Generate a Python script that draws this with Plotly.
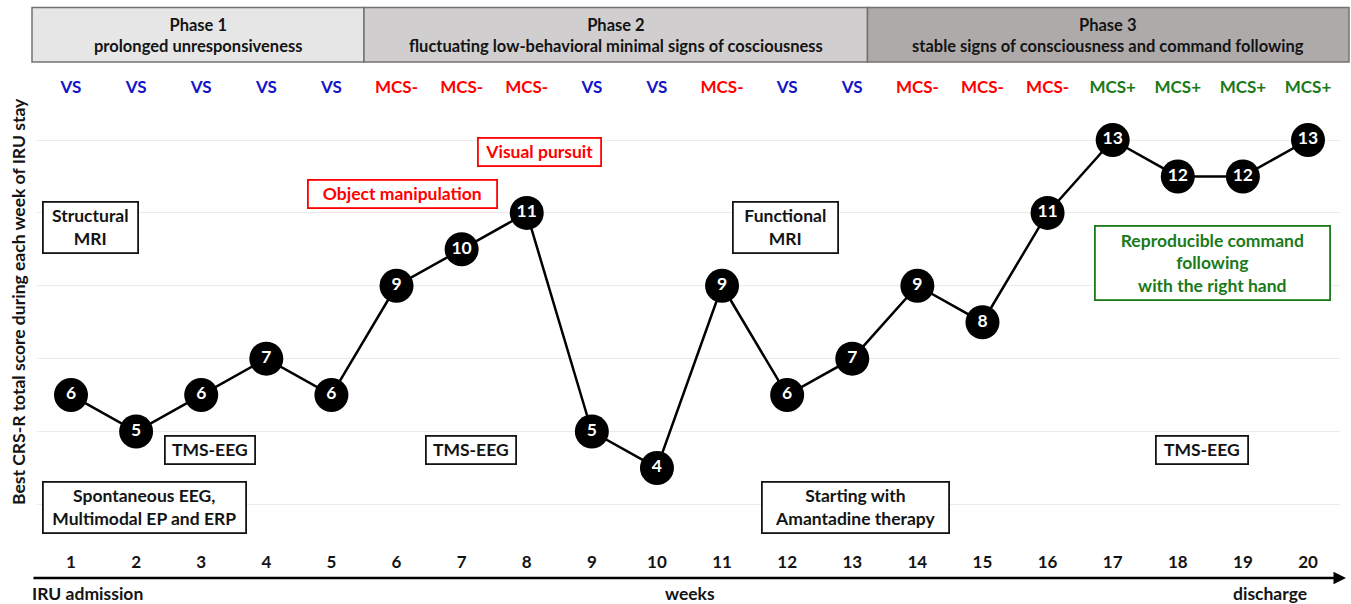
import plotly.graph_objects as go

# ---------------- data ----------------
weeks = list(range(1, 21))
scores = [6, 5, 6, 7, 6, 9, 10, 11, 5, 4, 9, 6, 7, 9, 8, 11, 13, 12, 12, 13]
states = ["VS", "VS", "VS", "VS", "VS", "MCS-", "MCS-", "MCS-", "VS", "VS",
          "MCS-", "VS", "VS", "MCS-", "MCS-", "MCS-", "MCS+", "MCS+", "MCS+", "MCS+"]
state_colors = {"VS": "#1414c8", "MCS-": "#ff0000", "MCS+": "#1a7a1a"}
grid_vals = [3, 5, 7, 9, 11, 13]
state_row = 14.4

phases = [
    ("Phase 1", "prolonged unresponsiveness", "#e6e6e6"),
    ("Phase 2", "fluctuating low-behavioral minimal signs of cosciousness", "#d0cece"),
    ("Phase 3", "stable signs of consciousness and command following", "#aeaaaa"),
]

FONT = "Lato"
TXT = "#141414"

# ---------------- layout helpers (pixel -> paper) ----------------
W, H = 1351, 604
ML, MR, MT, MB = 37, 11, 0, 26
PW = W - ML - MR
PH = H - MT - MB


def xp(p):
    return (p - ML) / PW


def yp(p):
    return (MT + PH - p) / PH


fig = go.Figure()

fig.add_trace(go.Scatter(
    x=weeks, y=scores, mode="lines+markers+text",
    line=dict(color="black", width=2.5),
    marker=dict(size=34, color="black", line=dict(color="black", width=0)),
    text=[str(s) for s in scores], textposition="middle center",
    textfont=dict(family=FONT, size=17.5, color="white", weight="bold"),
    hoverinfo="skip", showlegend=False, cliponaxis=False,
))

fig.add_trace(go.Scatter(
    x=weeks, y=[state_row] * len(weeks), mode="text",
    text=states, textposition="middle center",
    textfont=dict(family=FONT, size=17, color=[state_colors[s] for s in states], weight="bold"),
    hoverinfo="skip", showlegend=False, cliponaxis=False,
))

shapes = []
annotations = []

# phase boxes
phase_edges = [32, 364, 867.5, 1349]
for i, (title, sub, col) in enumerate(phases):
    x0, x1 = phase_edges[i], phase_edges[i + 1]
    shapes.append(dict(type="rect", xref="paper", yref="paper",
                       x0=xp(x0), x1=xp(x1), y0=yp(62), y1=yp(7.5),
                       fillcolor=col, line=dict(color="#767171", width=1.5), layer="below"))
    annotations.append(dict(xref="paper", yref="paper", x=xp((x0 + x1) / 2), y=yp(35),
                            text=title + "<br>" + sub, showarrow=False,
                            font=dict(family=FONT, size=16.5, color=TXT, weight="bold"),
                            align="center", xanchor="center", yanchor="middle"))

# text boxes: (text, cx, cy, w, h, color)
boxes = [
    ("Structural<br>MRI", 90.5, 227.8, 97, 53, TXT),
    ("TMS-EEG", 209.7, 450, 92, 30, TXT),
    ("Spontaneous EEG,<br>Multimodal EP and ERP", 144, 507.5, 205, 53, TXT),
    ("Object manipulation", 402.8, 194, 191, 30, "#ff0000"),
    ("Visual pursuit", 539.8, 152.3, 125, 30, "#ff0000"),
    ("TMS-EEG", 470.5, 450, 92, 30, TXT),
    ("Functional<br>MRI", 785.7, 227.5, 107, 53, TXT),
    ("Starting with<br>Amantadine therapy", 855.5, 507.5, 189, 53, TXT),
    ("Reproducible command<br>following<br>with the right hand", 1212.7, 263.3, 237, 76, "#1a7a1a"),
    ("TMS-EEG", 1202, 450, 94, 30, TXT),
]
for text, cx, cy, w, h, col in boxes:
    annotations.append(dict(xref="paper", yref="paper", x=xp(cx), y=yp(cy),
                            text=text, showarrow=False, width=w - 4, height=h - 4,
                            bordercolor=col, borderwidth=1.8, borderpad=0, bgcolor="white",
                            font=dict(family=FONT, size=17.5, color=col, weight="bold"),
                            align="center", valign="middle",
                            xanchor="center", yanchor="middle"))

# bottom axis arrow
annotations.append(dict(xref="paper", yref="paper", x=xp(1346), y=yp(578),
                        ax=-(1346 - 32), ay=0, axref="pixel", ayref="pixel",
                        showarrow=True, arrowhead=2, arrowsize=1, arrowwidth=2.5,
                        arrowcolor="black", text=""))

# bottom labels
for text, cx, anchor in [("IRU admission", 30, "left"), ("weeks", 690, "center"),
                         ("discharge", 1270, "center")]:
    annotations.append(dict(xref="paper", yref="paper", x=xp(cx), y=yp(593),
                            text=text, showarrow=False, xanchor=anchor, yanchor="middle",
                            font=dict(family=FONT, size=17.5, color=TXT, weight="bold")))

# y axis title
annotations.append(dict(xref="paper", yref="paper", x=xp(18), y=yp(302),
                        text="Best CRS-R total score during each week of IRU stay",
                        showarrow=False, textangle=-90, xanchor="center", yanchor="middle",
                        font=dict(family=FONT, size=17.5, color=TXT, weight="bold")))

x_lo = 1 + (ML - 71) / 65.105
x_hi = 1 + (W - MR - 71) / 65.105
y_hi = 13 + (140 - MT) / 36.44
y_lo = 13 + (140 - (MT + PH)) / 36.44

fig.update_layout(
    width=W, height=H,
    margin=dict(l=ML, r=MR, t=MT, b=MB),
    paper_bgcolor="white", plot_bgcolor="white",
    shapes=shapes, annotations=annotations,
    xaxis=dict(range=[x_lo, x_hi], tickvals=weeks, ticktext=[str(w) for w in weeks],
               showgrid=False, zeroline=False, showline=False, ticks="",
               ticklabelposition="inside", ticklabelstandoff=4,
               tickfont=dict(family=FONT, size=17, color=TXT, weight="bold")),
    yaxis=dict(range=[y_lo, y_hi], tickvals=grid_vals, showticklabels=False,
               showgrid=True, gridcolor="#ebebeb", gridwidth=1, zeroline=False,
               showline=False, ticks=""),
    showlegend=False,
)

fig.write_html(
    "out.html",
    config={"displayModeBar": False},
    post_script="document.body.style.margin='0';document.body.style.padding='0';"
                "document.body.style.overflow='hidden';",
)
